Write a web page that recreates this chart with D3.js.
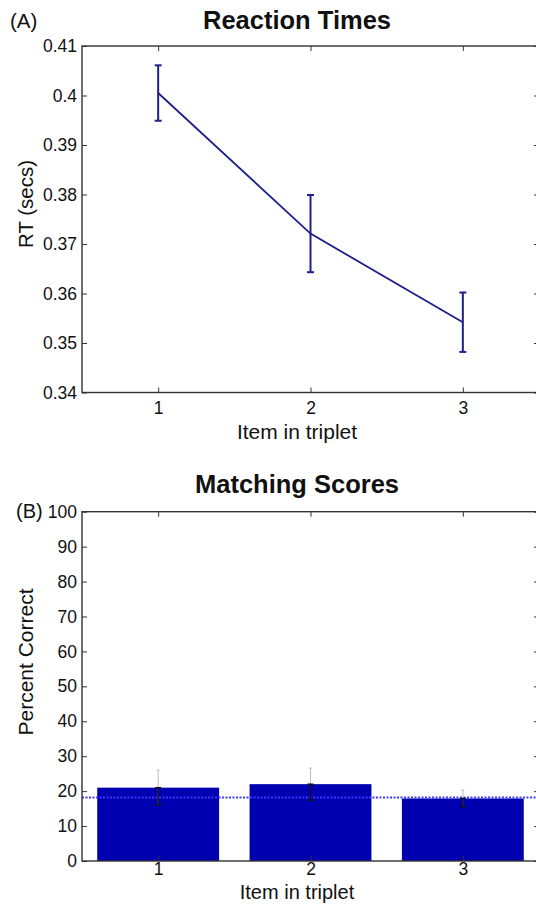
<!DOCTYPE html>
<html>
<head>
<meta charset="utf-8">
<script src="https://cdn.jsdelivr.net/npm/d3@7"></script>
<style>
  html, body { margin: 0; padding: 0; background: #fff; }
  svg { display: block; }
  text { font-family: "Liberation Sans", Arial, Helvetica, sans-serif; fill: #111; }
</style>
</head>
<body>
<svg id="chart" width="536" height="907"></svg>
<script>
// ---- data ----
const items = [1, 2, 3];
const rtMean = [0.4005, 0.3721, 0.3542];
const rtErr = [0.0056, 0.0078, 0.0060];
const rtTicks = [0.34, 0.35, 0.36, 0.37, 0.38, 0.39, 0.40, 0.41];
const rtTickLabels = ["0.34", "0.35", "0.36", "0.37", "0.38", "0.39", "0.4", "0.41"];

const pctMean = [21.0, 22.0, 17.9];
const pctErr = [5.0, 4.6, 2.4];
const chanceLevel = 18.2;
const pctTicks = [0, 10, 20, 30, 40, 50, 60, 70, 80, 90, 100];

const titles = ["Reaction Times", "Matching Scores"];
const panelLabels = ["(A)", "(B)"];
const xLabel = "Item in triplet";
const yLabels = ["RT (secs)", "Percent Correct"];

// ---- layout ----
const svg = d3.select("#chart");
const left = 82, right = 539;
const textCenterX = 297;
const axisColor = "#333";

function drawFrame(g, x, y, xTicks, yTicks, yFmt, xPad) {
  const [y0, y1] = y.range();
  g.append("g").attr("transform", `translate(${left},0)`)
    .call(d3.axisLeft(y).tickValues(yTicks).tickFormat(yFmt).tickSizeInner(-5).tickSizeOuter(0).tickPadding(5));
  g.append("g").attr("transform", `translate(${right},0)`)
    .call(d3.axisRight(y).tickValues(yTicks).tickFormat("").tickSizeInner(-5).tickSizeOuter(0));
  g.append("g").attr("transform", `translate(0,${y0})`)
    .call(d3.axisBottom(x).tickValues(xTicks).tickFormat(d3.format("d")).tickSizeInner(-5).tickSizeOuter(0).tickPadding(xPad));
  g.append("g").attr("transform", `translate(0,${y1})`)
    .call(d3.axisTop(x).tickValues(xTicks).tickFormat("").tickSizeInner(-5).tickSizeOuter(0));
  g.selectAll(".domain").remove();
  g.selectAll(".tick line").attr("stroke", axisColor).attr("stroke-width", 1);
  g.selectAll(".tick text").attr("font-size", 17.5).attr("fill", "#111")
    .attr("font-family", "'Liberation Sans', Arial, sans-serif");
  g.append("rect").attr("x", left).attr("y", y1).attr("width", right - left).attr("height", y0 - y1)
    .attr("fill", "none").attr("stroke", axisColor).attr("stroke-width", 1.4);
}

// ---- Panel A ----
const gA = svg.append("g");
const xA = d3.scaleLinear().domain([0.5, 3.5]).range([left, right]);
const yA = d3.scaleLinear().domain([0.34, 0.41]).range([392.5, 46]);
const lineColor = "#1e1e8c";

drawFrame(gA, xA, yA, items, rtTicks, (d, i) => rtTickLabels[i], 9);

gA.append("path")
  .datum(items.map((d, i) => [d, rtMean[i]]))
  .attr("fill", "none").attr("stroke", lineColor).attr("stroke-width", 1.8)
  .attr("d", d3.line().x(d => xA(d[0])).y(d => yA(d[1])));

const eb = gA.append("g").attr("stroke", lineColor).attr("stroke-width", 2);
items.forEach((d, i) => {
  const cx = xA(d), top = yA(rtMean[i] + rtErr[i]), bot = yA(rtMean[i] - rtErr[i]);
  eb.append("line").attr("x1", cx).attr("x2", cx).attr("y1", top).attr("y2", bot);
  eb.append("line").attr("x1", cx - 3.5).attr("x2", cx + 3.5).attr("y1", top).attr("y2", top);
  eb.append("line").attr("x1", cx - 3.5).attr("x2", cx + 3.5).attr("y1", bot).attr("y2", bot);
});

gA.append("text").attr("x", textCenterX).attr("y", 29).attr("text-anchor", "middle")
  .attr("font-size", 25.5).attr("font-weight", "bold").text(titles[0]);
gA.append("text").attr("x", 10).attr("y", 28).attr("font-size", 20.5).text(panelLabels[0]);
gA.append("text").attr("x", textCenterX).attr("y", 439).attr("text-anchor", "middle")
  .attr("font-size", 21).text(xLabel);
gA.append("text").attr("transform", `translate(33,204) rotate(-90)`)
  .attr("text-anchor", "middle").attr("font-size", 20.5).text(yLabels[0]);

// ---- Panel B ----
const gB = svg.append("g");
const xB = d3.scaleLinear().domain([0.5, 3.5]).range([left, right]);
const yB = d3.scaleLinear().domain([0, 100]).range([861, 511.7]);
const barW = 0.8;
const barColor = "#0000b0";

gB.selectAll("rect.bar").data(items).enter().append("rect")
  .attr("class", "bar")
  .attr("x", d => xB(d - barW / 2))
  .attr("width", d => xB(d + barW / 2) - xB(d - barW / 2))
  .attr("y", (d, i) => yB(pctMean[i]))
  .attr("height", (d, i) => yB(0) - yB(pctMean[i]))
  .attr("fill", barColor);

// chance line (dotted over white, appears solid bright over bars)
gB.append("line").attr("x1", left).attr("x2", right)
  .attr("y1", yB(chanceLevel)).attr("y2", yB(chanceLevel))
  .attr("stroke", "#3a3aff").attr("stroke-width", 2).attr("stroke-dasharray", "2,1.5");

// error bars
items.forEach((d, i) => {
  const cx = xB(d), top = yB(pctMean[i] + pctErr[i]), mid = yB(pctMean[i]), bot = yB(pctMean[i] - pctErr[i]);
  gB.append("line").attr("x1", cx).attr("x2", cx).attr("y1", top).attr("y2", bot)
    .attr("stroke", "#aaa").attr("stroke-width", 0.8);
  gB.append("line").attr("x1", cx - 1.5).attr("x2", cx + 1.5).attr("y1", top).attr("y2", top)
    .attr("stroke", "#aaa").attr("stroke-width", 0.8);
  gB.append("line").attr("x1", cx).attr("x2", cx).attr("y1", mid).attr("y2", bot)
    .attr("stroke", "#111").attr("stroke-width", 1.4);
  gB.append("line").attr("x1", cx - 3).attr("x2", cx + 3).attr("y1", bot).attr("y2", bot)
    .attr("stroke", "#111").attr("stroke-width", 1.4);
  gB.append("line").attr("x1", cx - 3).attr("x2", cx + 3).attr("y1", mid).attr("y2", mid)
    .attr("stroke", "#111").attr("stroke-width", 1.4);
});

drawFrame(gB, xB, yB, items, pctTicks, d3.format("d"), 2);

gB.append("text").attr("x", textCenterX).attr("y", 493).attr("text-anchor", "middle")
  .attr("font-size", 25.5).attr("font-weight", "bold").text(titles[1]);
gB.append("text").attr("x", 16).attr("y", 518).attr("font-size", 20).text(panelLabels[1]);
gB.append("text").attr("x", textCenterX).attr("y", 899).attr("text-anchor", "middle")
  .attr("font-size", 20).text(xLabel);
gB.append("text").attr("transform", `translate(33,662) rotate(-90)`)
  .attr("text-anchor", "middle").attr("font-size", 21).text(yLabels[1]);
</script>
</body>
</html>
